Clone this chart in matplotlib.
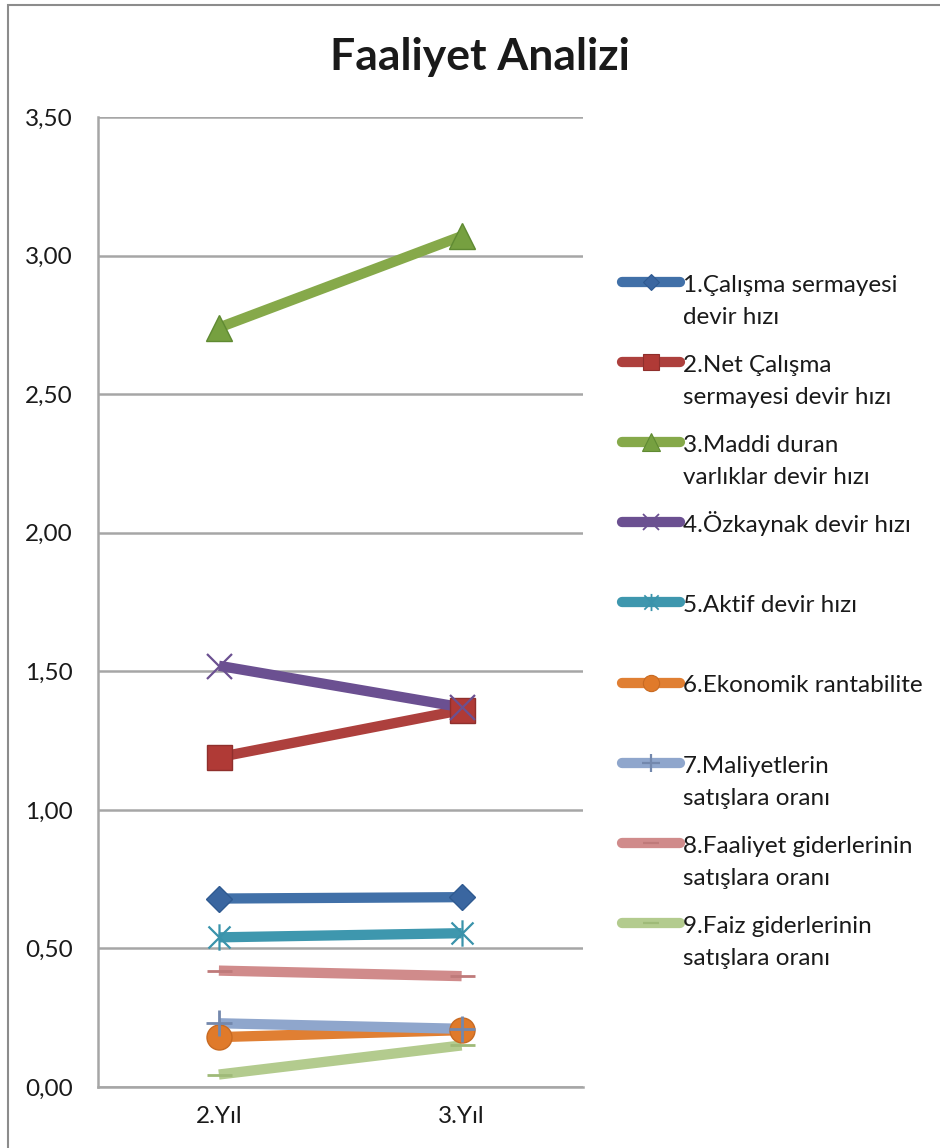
import numpy as np
import matplotlib
matplotlib.use("Agg")
import matplotlib.pyplot as plt
from matplotlib.lines import Line2D
from matplotlib.patches import Rectangle
from matplotlib.path import Path
from matplotlib.ticker import FuncFormatter

plt.rcParams['font.family'] = ['Lato', 'DejaVu Sans']

# --- data ---
years = ["2.Yıl", "3.Yıl"]
labels = [
    "1.Çalışma sermayesi\ndevir hızı",
    "2.Net Çalışma\nsermayesi devir hızı",
    "3.Maddi duran\nvarlıklar devir hızı",
    "4.Özkaynak devir hızı",
    "5.Aktif devir hızı",
    "6.Ekonomik rantabilite",
    "7.Maliyetlerin\nsatışlara oranı",
    "8.Faaliyet giderlerinin\nsatışlara oranı",
    "9.Faiz giderlerinin\nsatışlara oranı",
]
calisma_sermayesi = [0.68, 0.685]
net_calisma_sermayesi = [1.19, 1.36]
maddi_duran = [2.74, 3.07]
ozkaynak = [1.52, 1.37]
aktif = [0.54, 0.555]
ekonomik_rant = [0.18, 0.205]
maliyet_satis = [0.23, 0.21]
faaliyet_gider = [0.42, 0.40]
faiz_gider = [0.045, 0.15]

series = [calisma_sermayesi, net_calisma_sermayesi, maddi_duran, ozkaynak,
          aktif, ekonomik_rant, maliyet_satis, faaliyet_gider, faiz_gider]

# "star" marker: an X with a vertical stroke through it
star = Path([(-1, -1), (1, 1), (-1, 1), (1, -1), (0, -1.2), (0, 1.2)],
            [Path.MOVETO, Path.LINETO] * 3)

# line colour, marker, marker size, marker face, marker edge, edge width
styles = [
    ("#4170a8", "D", 13, "#3a66a0", "#2f5a91", 1.0),
    ("#ad403d", "s", 18, "#b03a36", "#8f2f2c", 1.0),
    ("#86a94a", "^", 19, "#76a040", "#5f8a32", 1.0),
    ("#6b5091", "x", 18, "none", "#6b5091", 1.6),
    ("#3e97ae", star, 19, "none", "#3a93ab", 1.6),
    ("#e07f33", "o", 18, "#e07a2a", "#c86a22", 1.0),
    ("#8fa6cc", "+", 19, "none", "#7388ad", 2.0),
    ("#d08b8b", "_", 18, "none", "#bf7a7a", 2.0),
    ("#b3cb8e", "_", 18, "none", "#9fba78", 2.0),
]

W, H = 940, 1148
fig = plt.figure(figsize=(W / 100, H / 100), dpi=100)

# chart border
fig.patches.append(Rectangle((8 / W, -0.2), 2.0, 1.2 - 5 / H,
                             transform=fig.transFigure, fill=False,
                             edgecolor="#8c8c8c", lw=1.5, zorder=0))

ax = fig.add_axes([97.5 / W, 1 - 1087 / H, (583 - 97.5) / W, (1087 - 117) / H])
x = np.arange(len(years))

for vals, (col, mk, ms, mfc, mec, mew) in zip(series, styles):
    ax.plot(x, vals, color=col, lw=7.4, solid_capstyle="butt", zorder=3)
    ax.plot(x, vals, ls="none", marker=mk, ms=ms, mfc=mfc, mec=mec,
            mew=mew, zorder=4)

ax.set_xlim(-0.5, 1.5)
ax.set_ylim(0, 3.5)
ax.set_yticks(np.arange(0, 3.51, 0.5))
ax.yaxis.set_major_formatter(FuncFormatter(lambda v, p: f"{v:.2f}".replace(".", ",")))
ax.set_xticks(x)
ax.set_xticklabels(years)
ax.tick_params(axis="both", length=0, labelsize=17.5, colors="#1a1a1a")
ax.tick_params(axis="y", pad=18)
ax.tick_params(axis="x", pad=14)
ax.grid(axis="y", color="#a6a6a6", lw=1.8, zorder=1)
for side in ["top", "right"]:
    ax.spines[side].set_visible(False)
for side in ["left", "bottom"]:
    ax.spines[side].set_color("#a6a6a6")
    ax.spines[side].set_linewidth(1.8)

fig.text(480 / W, 1 - 57 / H, "Faaliyet Analizi", ha="center", va="center",
         fontsize=32, fontweight="bold", color="#1a1a1a")

# legend drawn by hand: handle on the first text line, wrapped labels below
for i, (lab, (col, mk, ms, mfc, mec, mew)) in enumerate(zip(labels, styles)):
    base = 292 + 80.1 * i
    hy = 1 - (base - 10) / H
    fig.add_artist(Line2D([622 / W, 680 / W], [hy, hy], transform=fig.transFigure,
                          color=col, lw=7.4, solid_capstyle="round"))
    fig.add_artist(Line2D([651 / W], [hy], transform=fig.transFigure,
                          ls="none", marker=mk, ms=ms * 0.65, mfc=mfc, mec=mec,
                          mew=mew * 0.8))
    for j, line in enumerate(lab.split("\n")):
        fig.text(683 / W, 1 - (base + 32 * j) / H, line, ha="left",
                 va="baseline", fontsize=17.5, color="#1a1a1a")

fig.savefig("out.png", dpi=100)
